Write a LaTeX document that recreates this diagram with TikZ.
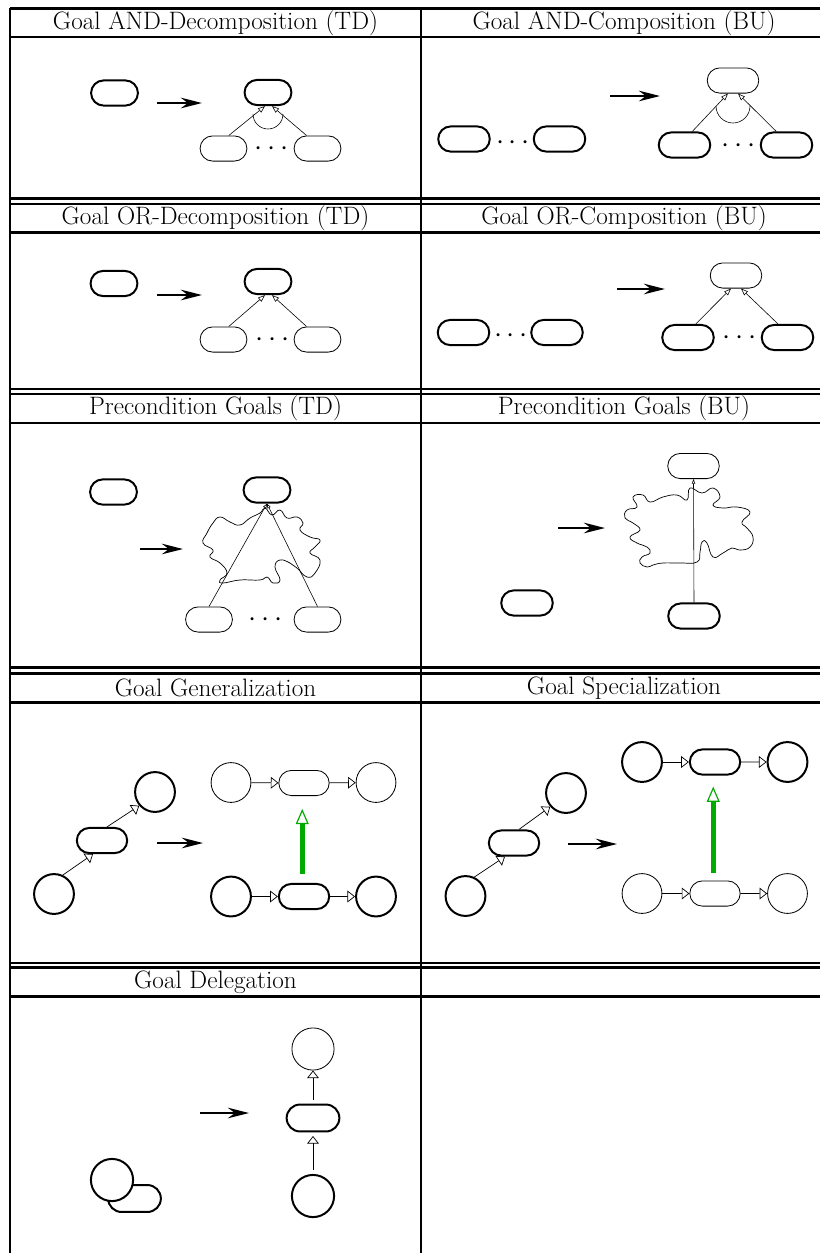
\documentclass[tikz,border=0pt]{standalone}
\usetikzlibrary{arrows.meta,calc,shapes.misc}
\definecolor{refgreen}{RGB}{0,170,0}

\begin{document}
\begin{tikzpicture}[
        x=0.3mm, y=-0.3mm,
        goal/.style={rounded rectangle, draw, line width=1.7pt, minimum width=40pt, minimum height=21.5pt, inner sep=0pt, fill=white},
        thingoal/.style={goal, line width=0.7pt},
        actor/.style={circle, draw, line width=1.7pt, minimum size=34pt, inner sep=0pt, fill=white},
        thinactor/.style={actor, line width=0.7pt},
        trans/.style={-{Stealth[length=18pt,width=9pt,inset=6pt]}, line width=2.3pt},
        sub/.style={-{Triangle[open,length=6pt,width=4.5pt]}, line width=0.5pt},
        pre/.style={-{Triangle[open,length=4pt,width=3pt]}, line width=0.5pt},
        link/.style={-{Triangle[open,length=6.5pt,width=10pt]}, line width=0.6pt},
        refine/.style={-{Triangle[open,length=13pt,width=11pt,line width=1pt]}, line width=4.3pt, draw=refgreen},
        blob/.style={line width=0.6pt},
        title/.style={font=\fontsize{21.5}{25}\selectfont},
        dots/.style={font=\fontsize{24}{28}\selectfont, inner sep=0pt},
        tabline/.style={line width=2pt}
    ]
    \useasboundingbox (0,0) rectangle (820,1253);

    % table rules
    \foreach \y in {8.5,37,198.5,204,232.5,389,394,423,667.5,673.5,702.5,963,967.5,996.5}
        \draw[tabline] (10,\y) -- (820,\y);
    \draw[tabline] (10,7.5) -- (10,1253);
    \draw[tabline] (421,7.5) -- (421,1253);

    % headings
    \node[title] (t1) at (215.5,23) {Goal AND-Decomposition (TD)};
    \node[title] (t2) at (624,23) {Goal AND-Composition (BU)};
    \node[title] (t3) at (215.5,218) {Goal OR-Decomposition (TD)};
    \node[title] (t4) at (624,218) {Goal OR-Composition (BU)};
    \node[title] (t5) at (215.5,408.5) {Precondition Goals (TD)};
    \node[title] (t6) at (624,408.5) {Precondition Goals (BU)};
    \node[title] (t7) at (215.5,688) {Goal Generalization};
    \node[title] (t8) at (624,688) {Goal Specialization};
    \node[title] (t9) at (215.5,982) {Goal Delegation};

    % AND decomposition
    \node[goal] (a0) at (114.5,93) {};
    \coordinate (a0s) at (157,103);
    \coordinate (a0e) at (202,103);
    \draw[trans] (a0s) -- (a0e);
    \node[goal] (a1) at (268,92.5) {};
    \node[thingoal] (a2) at (223.5,148.5) {};
    \node[thingoal] (a3) at (317.5,148.5) {};
    \node[dots] (a4) at (272,149) {$\cdots$};
    \draw[sub] (a2.68) -- ($(a1.south)+(-3,0)$);
    \draw[sub] (a3.130) -- ($(a1.south)+(4,0)$);
    \draw[line width=0.5pt] (253,114) arc[start angle=180, end angle=0, radius=15];

    % AND composition
    \node[goal, minimum width=44pt] (b0) at (464,139) {};
    \node[goal, minimum width=44pt] (b1) at (559.5,139) {};
    \node[dots] (b5) at (513,143) {$\cdots$};
    \coordinate (b0s) at (610,96);
    \coordinate (b0e) at (660,96);
    \draw[trans] (b0s) -- (b0e);
    \node[thingoal, minimum width=44pt] (b2) at (733,80.5) {};
    \node[goal, minimum width=44pt] (b3) at (684.5,145) {};
    \node[goal, minimum width=44pt] (b4) at (786.5,145) {};
    \node[dots] (b6) at (738.5,146) {$\cdots$};
    \draw[sub] (b3.60) -- ($(b2.south)+(-5,0)$);
    \draw[sub] (b4.127) -- ($(b2.south)+(5,0)$);
    \draw[line width=0.5pt] (716,106) arc[start angle=180, end angle=0, radius=17];

    % OR decomposition
    \node[goal] (c0) at (114,283.5) {};
    \coordinate (c0s) at (157,295);
    \coordinate (c0e) at (202,295);
    \draw[trans] (c0s) -- (c0e);
    \node[goal] (c1) at (268,281.5) {};
    \node[thingoal] (c2) at (223.5,339.5) {};
    \node[thingoal] (c3) at (317.5,339.5) {};
    \node[dots] (c4) at (273,340.5) {$\cdots$};
    \draw[sub] (c2.68) -- ($(c1.south)+(-3,0)$);
    \draw[sub] (c3.130) -- ($(c1.south)+(4,0)$);

    % OR composition
    \node[goal, minimum width=44pt] (d0) at (463.5,332.5) {};
    \node[goal, minimum width=44pt] (d1) at (557,332.5) {};
    \node[dots] (d5) at (511,336) {$\cdots$};
    \coordinate (d0s) at (617,289);
    \coordinate (d0e) at (665,289);
    \draw[trans] (d0s) -- (d0e);
    \node[thingoal, minimum width=44pt] (d2) at (736,275.5) {};
    \node[goal, minimum width=44pt] (d3) at (688,337.5) {};
    \node[goal, minimum width=44pt] (d4) at (787.5,337.5) {};
    \node[dots] (d6) at (739.5,338) {$\cdots$};
    \draw[sub] (d3.60) -- ($(d2.south)+(-5,0)$);
    \draw[sub] (d4.125) -- ($(d2.south)+(5,0)$);

    % precondition goals, top down
    \node[goal] (e0) at (113.5,492) {};
    \node[goal] (e1) at (267,490) {};
    \coordinate (e0s) at (140,549);
    \coordinate (e0e) at (183,549);
    \draw[trans] (e0s) -- (e0e);
    \node[thingoal] (e2) at (209,619.5) {};
    \node[thingoal] (e3) at (317.5,619.5) {};
    \node[dots] (e4) at (265.5,620) {$\cdots$};
    \draw[pre] (e2.north) -- (e1.south);
    \draw[pre] (e3.north) -- (e1.south);
    \draw[blob] plot[smooth cycle, tension=0.8] coordinates {
        (213,523) (220,517) (230,522) (240,525) (250,518) (260,513) (265,508)
        (272,515) (280,510) (287,518) (297,517) (303,523) (300,530) (310,537)
        (320,540) (315,547) (310,553) (320,560) (315,573) (307,577) (297,568)
        (290,563) (280,560) (275,567) (280,580) (273,583) (267,577) (260,580)
        (240,580) (223,583) (220,580) (227,573) (220,563) (210,557) (213,550)
        (203,543) (207,533)};

    % precondition goals, bottom up
    \node[thingoal, minimum width=44pt] (f0) at (693.5,466) {};
    \coordinate (f0s) at (558,528);
    \coordinate (f0e) at (605,528);
    \draw[trans] (f0s) -- (f0e);
    \node[goal, minimum width=44pt] (f1) at (527,603) {};
    \node[goal, minimum width=44pt] (f2) at (694,616) {};
    \draw[pre] (f2.north) -- (f0.south);
    \draw[blob] plot[smooth cycle, tension=0.8] coordinates {
        (633,497) (643,495) (650,502) (663,497) (677,495) (687,500) (690,488)
        (702,493) (713,488) (720,497) (713,505) (723,508) (737,507) (750,512)
        (742,522) (747,528) (753,537) (750,547) (740,550) (732,548) (723,553)
        (713,557) (707,543) (702,542) (700,552) (697,562) (680,563) (663,563)
        (653,565) (647,567) (640,563) (642,557) (650,553) (647,547) (637,543)
        (630,537) (640,530) (633,523) (625,518) (627,510) (637,507)};

    % generalization
    \node[actor] (g0) at (54,894) {};
    \node[goal, minimum width=43pt] (g1) at (102,840.5) {};
    \node[actor] (g2) at (155,792) {};
    \draw[link] (g0.65) -- ($(g1.south)+(-9,0)$);
    \draw[link] ($(g1.north)+(5,0)$) -- (g2.221);
    \coordinate (g0s) at (157,843);
    \coordinate (g0e) at (203,843);
    \draw[trans] (g0s) -- (g0e);
    \node[thinactor] (g3) at (231,782.5) {};
    \node[thingoal, minimum width=43pt] (g4) at (304,783) {};
    \node[thinactor] (g5) at (376,782.5) {};
    \node[actor] (g6) at (231,896.5) {};
    \node[goal, minimum width=43pt] (g7) at (304,896.5) {};
    \node[actor] (g8) at (376,896.5) {};
    \draw[link] (g3) -- (g4);
    \draw[link] (g4) -- (g5);
    \draw[link] (g6) -- (g7);
    \draw[link] (g7) -- (g8);
    \draw[refine] ([xshift=-1.5pt,yshift=7.7pt]g7.north) -- ([xshift=-1.5pt,yshift=-11pt]g4.south);

    % specialization
    \node[actor] (h0) at (465.5,896) {};
    \node[goal, minimum width=43pt] (h1) at (514,843) {};
    \node[actor] (h2) at (566,793) {};
    \draw[link] (h0.65) -- ($(h1.south)+(-9,0)$);
    \draw[link] ($(h1.north)+(5,0)$) -- (h2.221);
    \coordinate (h0s) at (568,844);
    \coordinate (h0e) at (617,844);
    \draw[trans] (h0s) -- (h0e);
    \node[actor] (h3) at (642,762) {};
    \node[goal, minimum width=43pt] (h4) at (715,762) {};
    \node[actor] (h5) at (787.5,762) {};
    \node[thinactor] (h6) at (642,893.5) {};
    \node[thingoal, minimum width=43pt] (h7) at (715,893.5) {};
    \node[thinactor] (h8) at (787.5,893.5) {};
    \draw[link] (h3) -- (h4);
    \draw[link] (h4) -- (h5);
    \draw[link] (h6) -- (h7);
    \draw[link] (h7) -- (h8);
    \draw[refine] ([xshift=-1.5pt,yshift=6pt]h7.north) -- ([xshift=-1.5pt,yshift=-9.4pt]h4.south);

    % delegation
    \node[goal, minimum width=45pt, minimum height=23pt] (k0) at (134.5,1198.5) {};
    \node[actor, minimum size=36pt] (k1) at (112,1180) {};
    \coordinate (k0s) at (200,1113);
    \coordinate (k0e) at (249,1113);
    \draw[trans] (k0s) -- (k0e);
    \node[thinactor, minimum size=36pt] (k2) at (313,1049) {};
    \node[goal, minimum width=45pt, minimum height=23pt] (k3) at (313,1118) {};
    \node[actor, minimum size=36pt] (k4) at (313,1196) {};
    \draw[link, shorten <=3pt, shorten >=3pt] (k4) -- (k3);
    \draw[link, shorten <=3pt] (k3) -- (k2);

\end{tikzpicture}
\end{document}
